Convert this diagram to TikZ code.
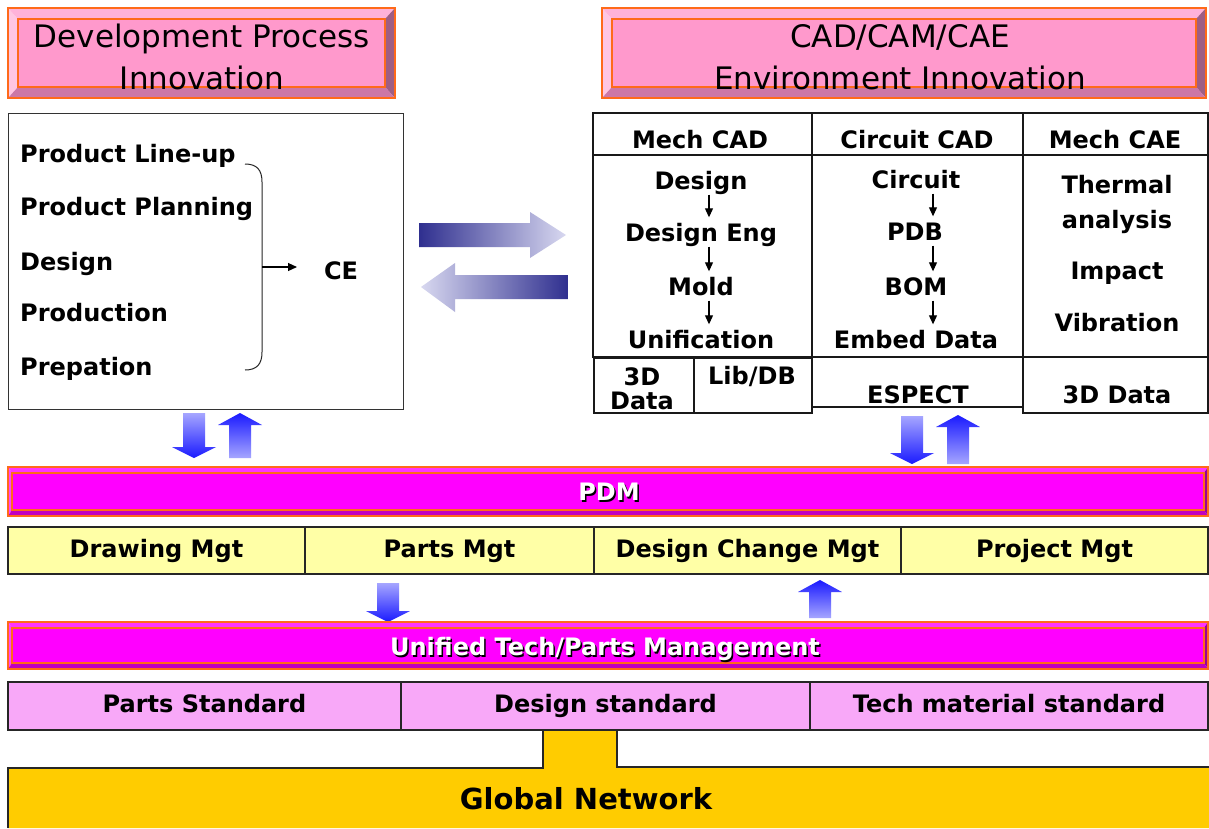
\documentclass[tikz,border=0pt]{standalone}
\usepackage{fontspec}
\setmainfont{DejaVu Sans}
\usetikzlibrary{arrows.meta}

\definecolor{hdrface}{HTML}{FF99CC}
\definecolor{hdrtop}{HTML}{FFB2D9}
\definecolor{hdrleft}{HTML}{FFC6E2}
\definecolor{hdrright}{HTML}{9E5E84}
\definecolor{hdrbot}{HTML}{CC77A6}
\definecolor{barface}{HTML}{FF00FF}
\definecolor{bartop}{HTML}{FF33FF}
\definecolor{barleft}{HTML}{FF44FF}
\definecolor{barright}{HTML}{990099}
\definecolor{barbot}{HTML}{C000C0}
\definecolor{edgeorange}{HTML}{FF6A1A}
\definecolor{rowyellow}{HTML}{FFFFA6}
\definecolor{rowpink}{HTML}{F8A8F8}
\definecolor{netgold}{HTML}{FFCC00}
\definecolor{navy}{HTML}{2F2F8F}
\definecolor{lavmid}{HTML}{B4B4DE}
\definecolor{lavender}{HTML}{D8D8F0}
\definecolor{bluedark}{HTML}{1A1AFF}
\definecolor{bluelight}{HTML}{A6A6FF}

% bevelled banner: x1, y1, x2, y2, inset x, inset y, colour prefix
\newcommand\bevelbox[7]{%
  \fill[#7left] (#1,#2) -- (#1+#5,#2+#6) -- (#1+#5,#4-#6) -- (#1,#4) -- cycle;
  \fill[#7top] (#1,#2) -- (#3,#2) -- (#3-#5,#2+#6) -- (#1+#5,#2+#6) -- cycle;
  \fill[#7right] (#3,#2) -- (#3,#4) -- (#3-#5,#4-#6) -- (#3-#5,#2+#6) -- cycle;
  \fill[#7bot] (#1,#4) -- (#3,#4) -- (#3-#5,#4-#6) -- (#1+#5,#4-#6) -- cycle;
  \filldraw[fill=#7face,draw=edgeorange,line width=1.2pt] (#1+#5,#2+#6) rectangle (#3-#5,#4-#6);
  \draw[edgeorange,line width=1.4pt] (#1,#2) rectangle (#3,#4);
}
% vertical block arrows: centre x, top y, bottom y
\newcommand\blkdown[3]{%
  \shade[top color=bluelight,bottom color=bluedark]
    (#1-11,#2) -- (#1+11,#2) -- (#1+11,#3-11) -- (#1+22,#3-11) -- (#1,#3)
    -- (#1-22,#3-11) -- (#1-11,#3-11) -- cycle;
}
\newcommand\blkup[3]{%
  \shade[top color=bluedark,bottom color=bluelight]
    (#1,#2) -- (#1+22,#2+12) -- (#1+11,#2+12) -- (#1+11,#3) -- (#1-11,#3)
    -- (#1-11,#2+12) -- (#1-22,#2+12) -- cycle;
}

\begin{document}
\begin{tikzpicture}[x=1pt,y=-1pt,
  txt/.style={font=\fontsize{24}{28}\selectfont\bfseries,inner sep=0pt,
              text height=18pt,text depth=5pt},
  hdrtext/.style={font=\fontsize{31}{42}\selectfont,align=center,inner sep=0pt},
  shadowtxt/.style={txt,text=black},
  whitetxt/.style={txt,text=white},
  panel/.style={draw=black!80,line width=1.3pt,fill=white,inner sep=0pt},
  tbl/.style={draw=black!90,line width=1.5pt},
  flow/.style={-{Triangle[length=9pt,width=8pt]},line width=1.1pt},
  ycell/.style={txt,draw=black!85,line width=1.3pt,fill=rowyellow,
                minimum height=47pt},
  pcell/.style={txt,draw=black!85,line width=1.3pt,fill=rowpink,
                minimum height=48pt},
]
\useasboundingbox (0,0) rectangle (1209,828);
\fill[white] (0,0) rectangle (1209,828);

% ---- banners
\bevelbox{8}{8}{395}{98}{10}{11}{hdr}
\bevelbox{602}{8}{1206}{98}{10}{11}{hdr}
\node[hdrtext] (devhdr) at (202,57) {Development Process\\Innovation};
\node[hdrtext] (cadhdr) at (900,57) {CAD/CAM/CAE\\Environment Innovation};

% ---- development process panel
\node[panel,anchor=north west,minimum width=395pt,minimum height=296pt]
  (devbox) at (8,113) {};
\node[txt,anchor=west] (i1) at (20,156) {Product Line-up};
\node[txt,anchor=west] (i2) at (20,209) {Product Planning};
\node[txt,anchor=west] (i3) at (20,264) {Design};
\node[txt,anchor=west] (i4) at (20,315) {Production};
\node[txt,anchor=west] (i5) at (20,369) {Prepation};
\draw[black!85,line width=1pt]
  (245,164) .. controls (257,164) and (262,170) .. (262,182) -- (262,352)
  .. controls (262,364) and (257,370) .. (245,370);
\coordinate (brc) at (262,267);
\coordinate (cetip) at (297,267);
\node[txt] (ce) at (341,273) {CE};
\draw[flow] (brc) -- (cetip);

% ---- exchange arrows
\shade[left color=navy,middle color=lavmid,right color=lavender]
  (419,223) -- (530,223) -- (530,212) -- (566,235) -- (530,258)
  -- (530,247) -- (419,247) -- cycle;
\shade[left color=lavender,middle color=lavmid,right color=navy]
  (421,287) -- (455,263) -- (455,275) -- (568,275) -- (568,299)
  -- (455,299) -- (455,312) -- cycle;

% ---- CAD/CAM/CAE table
\draw[tbl] (593,113) rectangle (812,155);
\draw[tbl] (812,113) rectangle (1023,155);
\draw[tbl] (1023,113) rectangle (1208,155);
\draw[tbl] (593,155) rectangle (812,357);
\draw[tbl] (812,155) rectangle (1023,357);
\draw[tbl] (1023,155) rectangle (1208,357);
\draw[tbl] (594,358) rectangle (694,413);
\draw[tbl] (694,358) rectangle (812,413);
\draw[tbl] (812,357) rectangle (1023,407);
\draw[tbl] (1023,357) rectangle (1208,413);

\node[txt] (mcad) at (700,142) {Mech CAD};
\node[txt] (ccad) at (917,142) {Circuit CAD};
\node[txt] (mcae) at (1115,142) {Mech CAE};

\node[txt] (m1) at (701,183) {Design};
\node[txt] (m2) at (701,235) {Design Eng};
\node[txt] (m3) at (701,289) {Mold};
\node[txt] (m4) at (701,342) {Unification};
\draw[flow] ([xshift=8pt]m1.south) -- ([xshift=8pt,yshift=6pt]m2.north);
\draw[flow] ([xshift=8pt]m2.south) -- ([xshift=8pt,yshift=6pt]m3.north);
\draw[flow] ([xshift=8pt]m3.south) -- ([xshift=8pt,yshift=6pt]m4.north);

\node[txt] (c1) at (916,182) {Circuit};
\node[txt] (c2) at (915,234) {PDB};
\node[txt] (c3) at (916,289) {BOM};
\node[txt] (c4) at (916,342) {Embed Data};
\draw[flow] ([xshift=17pt]c1.south) -- ([xshift=18pt,yshift=6pt]c2.north);
\draw[flow] ([xshift=18pt]c2.south) -- ([xshift=17pt,yshift=6pt]c3.north);
\draw[flow] ([xshift=17pt]c3.south) -- ([xshift=17pt,yshift=6pt]c4.north);

\node[txt] (e1) at (1117,187) {Thermal};
\node[txt] (e2) at (1117,222) {analysis};
\node[txt] (e3) at (1117,273) {Impact};
\node[txt] (e4) at (1117,325) {Vibration};

\node[txt] (b1a) at (642,379) {3D};
\node[txt] (b1b) at (642,403) {Data};
\node[txt] (b2) at (752,378) {Lib/DB};
\node[txt] (b3) at (918,397) {ESPECT};
\node[txt] (b4) at (1117,397) {3D Data};

% ---- block arrows to and from PDM
\blkdown{194}{413}{458}
\blkup{240}{413}{458}
\blkdown{912}{416}{464}
\blkup{958}{415}{464}

% ---- PDM bar and its modules
\bevelbox{8}{467}{1208}{516}{4}{6}{bar}
\node[shadowtxt] (pdmsh) at (610.5,495.5) {PDM};
\node[whitetxt] (pdm) at (609,494) {PDM};

\node[ycell,minimum width=297pt] (drw) at (156.5,550.5) {Drawing Mgt};
\node[ycell,minimum width=289pt] (prt) at (449.5,550.5) {Parts Mgt};
\node[ycell,minimum width=307pt] (dcm) at (747.5,550.5) {Design Change Mgt};
\node[ycell,minimum width=307pt] (prj) at (1054.5,550.5) {Project Mgt};

\blkdown{388}{583}{622}
\blkup{820}{580}{618}

% ---- unified management bar and standards
\bevelbox{8}{622}{1208}{669}{4}{6}{bar}
\node[shadowtxt] (utpsh) at (606.5,650.5) {Unified Tech/Parts Management};
\node[whitetxt] (utp) at (605,649) {Unified Tech/Parts Management};

% ---- global network base
\fill[netgold] (8,768) -- (543,768) -- (543,730) -- (617,730) -- (617,767)
  -- (1209,767) -- (1209,828) -- (8,828) -- cycle;
\draw[black!85,line width=1.2pt] (8,828) -- (8,768) -- (543,768) -- (543,730);
\draw[black!85,line width=1.2pt] (617,730) -- (617,767) -- (1209,767);
\node[font=\fontsize{29}{32}\selectfont\bfseries,inner sep=0pt,
      text height=21pt,text depth=6pt] (gnet) at (586,802) {Global Network};

\node[pcell,minimum width=393pt] (pstd) at (204.5,706) {Parts Standard};
\node[pcell,minimum width=409pt] (dstd) at (605.5,706) {Design standard};
\node[pcell,minimum width=398pt] (tstd) at (1009,706) {Tech material standard};
\end{tikzpicture}
\end{document}
